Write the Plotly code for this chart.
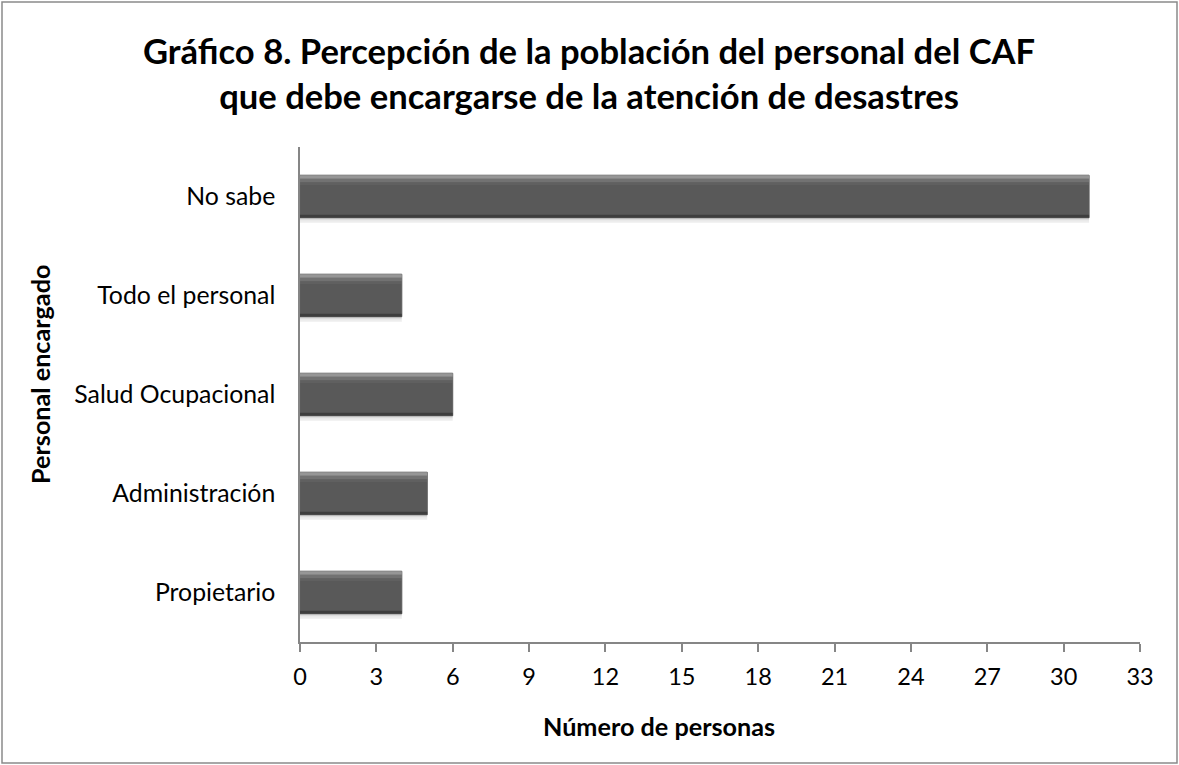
import plotly.graph_objects as go

# data
categories = ["Propietario", "Administración", "Salud Ocupacional", "Todo el personal", "No sabe"]
personas = [4, 5, 6, 4, 31]
x_ticks = [0, 3, 6, 9, 12, 15, 18, 21, 24, 27, 30, 33]

W, H = 1179, 765
L, R, T, B = 300, 39, 147, 123
PW, PH = W - L - R, H - T - B

FONT = "Lato"
AXIS_GREY = "#868686"
BAR_W = 0.43
HALF = BAR_W / 2

fig = go.Figure()


def strip(width, offset, color):
    # thin overlay bar sharing the data, used for the bevel / shadow look
    return go.Bar(
        y=categories,
        x=personas,
        orientation="h",
        width=width,
        offset=offset,
        marker=dict(color=color, line=dict(width=0)),
        hoverinfo="skip",
    )


# soft shadow under each bar
fig.add_trace(strip(0.05, -HALF - 0.05, "rgba(0,0,0,0.07)"))
fig.add_trace(strip(0.025, -HALF - 0.025, "rgba(0,0,0,0.07)"))

# main bar body
fig.add_trace(
    go.Bar(
        y=categories,
        x=personas,
        orientation="h",
        width=BAR_W,
        marker=dict(color="#595959", line=dict(color="#5e5e5e", width=1)),
        hoverinfo="x+y",
    )
)

# top highlight (lighter towards the edge)
fig.add_trace(strip(0.035, HALF - 0.035, "rgba(165,165,165,0.8)"))
fig.add_trace(strip(0.035, HALF - 0.07, "rgba(140,140,140,0.5)"))
fig.add_trace(strip(0.03, HALF - 0.10, "rgba(120,120,120,0.25)"))
# dark lower edge
fig.add_trace(strip(0.03, -HALF, "rgba(55,55,55,0.8)"))


def px_x(p):
    return (p - L) / PW


def px_y(p):
    return (H - B - p) / PH


fig.update_layout(
    width=W,
    height=H,
    margin=dict(l=L, r=R, t=T, b=B),
    barmode="overlay",
    showlegend=False,
    plot_bgcolor="#ffffff",
    paper_bgcolor="#ffffff",
    font=dict(family=FONT, color="#000000", size=24),
    xaxis=dict(
        range=[0, 33],
        tickvals=x_ticks,
        showgrid=False,
        zeroline=False,
        showline=True,
        linecolor=AXIS_GREY,
        linewidth=1.5,
        ticks="outside",
        ticklen=8,
        tickcolor=AXIS_GREY,
        tickwidth=1.5,
        ticklabelstandoff=5,
        tickfont=dict(size=23.5, family=FONT),
        fixedrange=True,
    ),
    yaxis=dict(
        categoryorder="array",
        categoryarray=categories,
        showgrid=False,
        zeroline=False,
        showline=True,
        linecolor=AXIS_GREY,
        linewidth=1.5,
        ticks="",
        ticklabelstandoff=18,
        tickfont=dict(size=24.8, family=FONT),
        fixedrange=True,
    ),
    annotations=[
        dict(
            text="<b>Gráfico 8. Percepción de la población del personal del CAF<br>"
            "que debe encargarse de la atención de desastres</b>",
            xref="paper",
            yref="paper",
            x=px_x(589),
            y=px_y(73),
            xanchor="center",
            yanchor="middle",
            showarrow=False,
            font=dict(size=34.6, family=FONT),
        ),
        dict(
            text="<b>Número de personas</b>",
            xref="paper",
            yref="paper",
            x=px_x(659),
            y=px_y(726),
            xanchor="center",
            yanchor="middle",
            showarrow=False,
            font=dict(size=25.2, family=FONT),
        ),
        dict(
            text="<b>Personal encargado</b>",
            xref="paper",
            yref="paper",
            x=px_x(40),
            y=px_y(375),
            xanchor="center",
            yanchor="middle",
            textangle=-90,
            showarrow=False,
            font=dict(size=25.2, family=FONT),
        ),
    ],
    shapes=[
        dict(
            type="rect",
            xref="paper",
            yref="paper",
            x0=px_x(2),
            x1=px_x(1177),
            y0=px_y(763),
            y1=px_y(2),
            line=dict(color="#8a8a8a", width=1.5),
            fillcolor="rgba(0,0,0,0)",
            layer="below",
        )
    ],
)

fig.write_html(
    "out.html",
    config={"displayModeBar": False},
    post_script="document.body.style.margin = '0';",
)
